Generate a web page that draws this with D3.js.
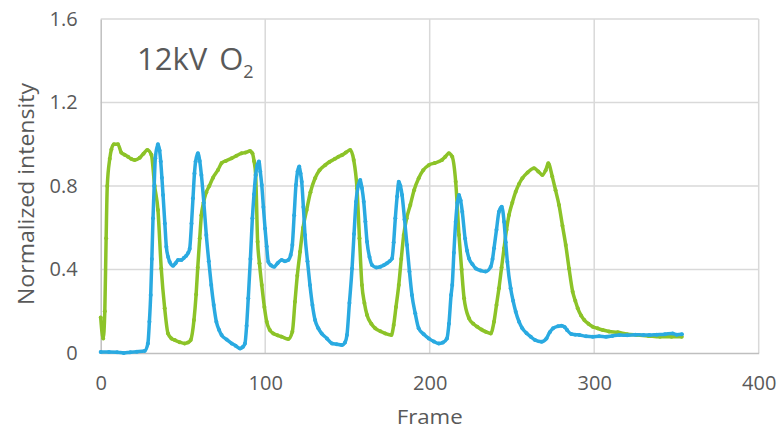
<!DOCTYPE html>
<html>
<head>
<meta charset="utf-8">
<script src="https://cdn.jsdelivr.net/npm/d3@7"></script>
<style>
  html, body { margin: 0; padding: 0; background: #ffffff; }
  svg { display: block; }
  text { font-family: "Open Sans", "DejaVu Sans", sans-serif; fill: #595959; }
</style>
</head>
<body>
<svg id="chart" width="782" height="435"></svg>
<script>
// Axis ticks
const xTicks = [0, 100, 200, 300, 400];
const yTicks = [0, 0.4, 0.8, 1.2, 1.6];
const yTickLabels = ["0", "0.4", "0.8", "1.2", "1.6"];

// Normalized intensity per frame, [frame, value]
const greenSeries = [
  [0,0.17],[1.5,0.07],[2.5,0.2],[3.3,0.55],[4,0.8],[5.5,0.93],[6.5,0.975],[8,1.0],[10.5,1.0],
  [12.5,0.96],[14.5,0.95],[16.6,0.94],[18.5,0.93],[20.7,0.925],[23.7,0.935],[26,0.955],[28.3,0.972],
  [30.8,0.95],[32.8,0.80],[34.8,0.685],[36.8,0.405],[38.9,0.214],[40.9,0.094],[43,0.07],[45,0.062],
  [48,0.052],[51,0.046],[53,0.05],[54.7,0.062],[56.7,0.158],[58,0.28],[59,0.41],[60.2,0.55],
  [61.2,0.66],[62.5,0.72],[64.2,0.77],[66,0.8],[68.3,0.84],[71.3,0.877],[73.5,0.91],[76,0.92],
  [79.6,0.933],[82.5,0.945],[85.7,0.957],[88,0.96],[90.8,0.968],[92.2,0.957],[93.2,0.92],[94.2,0.853],
  [95.4,0.533],[96.5,0.43],[97.9,0.326],[99.5,0.22],[100.9,0.15],[102.8,0.11],[104.9,0.094],
  [107.5,0.085],[110,0.078],[114,0.067],[116.5,0.102],[118.1,0.246],[119.5,0.37],[121.2,0.485],
  [123,0.6],[125.2,0.685],[127.5,0.77],[130.3,0.837],[133,0.875],[136.4,0.90],[139,0.915],
  [142.4,0.93],[144.5,0.94],[146.7,0.948],[149,0.96],[151.7,0.972],[153.8,0.925],[155.8,0.789],
  [157.3,0.55],[158.8,0.326],[160.3,0.24],[161.9,0.182],[164.5,0.14],[166.9,0.118],[170,0.104],
  [173,0.094],[176.7,0.086],[178.1,0.134],[179.5,0.22],[181.2,0.326],[182.7,0.45],[184.2,0.565],
  [186,0.645],[188.2,0.709],[190.5,0.78],[193.3,0.837],[196,0.875],[199.4,0.90],[203,0.91],
  [207.5,0.925],[209.5,0.94],[211.6,0.957],[213.7,0.94],[215.8,0.82],[217.8,0.565],[219.4,0.40],
  [220.9,0.262],[223.9,0.166],[226.5,0.14],[228.9,0.126],[231.5,0.112],[234,0.102],[237.1,0.094],
  [239.1,0.15],[240.6,0.23],[242.1,0.31],[243.7,0.41],[245.2,0.502],[246.7,0.59],[248.2,0.661],
  [250.2,0.72],[252.3,0.773],[254.3,0.81],[256.3,0.837],[259.5,0.865],[263.4,0.885],[266,0.87],
  [268.5,0.853],[270.5,0.875],[272.1,0.909],[274.5,0.845],[276.5,0.78],[278.6,0.709],[280.7,0.61],
  [282.7,0.517],[284.7,0.405],[286.9,0.294],[288.5,0.25],[290,0.214],[292,0.18],[294,0.158],
  [296.5,0.14],[299.1,0.126],[302,0.118],[305.2,0.11],[309,0.103],[314.3,0.099],[320,0.09],
  [326,0.086],[333,0.082],[340,0.078],[347,0.078],[353.2,0.078]
];

const blueSeries = [
  [0,0.005],[5,0.005],[10,0.004],[14,0.0],[18,0.004],[22,0.006],[26.7,0.01],[28.7,0.046],
  [29.6,0.15],[30.4,0.278],[31.1,0.45],[31.8,0.645],[32.5,0.8],[33.2,0.933],[34.8,1.0],[35.8,0.97],
  [36.5,0.917],[37.2,0.84],[37.9,0.757],[39,0.62],[39.9,0.509],[41,0.46],[41.9,0.437],[44,0.418],
  [45.5,0.43],[47,0.445],[49,0.445],[50.5,0.455],[52,0.466],[53.2,0.48],[54.1,0.50],[55.2,0.62],
  [56.1,0.741],[57,0.86],[57.7,0.917],[59.1,0.957],[60.2,0.92],[61.2,0.853],[62.7,0.72],[64.2,0.565],
  [65.7,0.44],[67.2,0.326],[68.7,0.23],[70.3,0.15],[72,0.11],[73.5,0.086],[76.5,0.065],[79.6,0.046],
  [82,0.035],[84.7,0.022],[86.5,0.03],[87.7,0.046],[88.7,0.13],[89.7,0.262],[91,0.45],[92.2,0.645],
  [93.2,0.76],[94.2,0.853],[95.2,0.9],[96.2,0.917],[97,0.87],[97.9,0.805],[98.9,0.7],[99.9,0.597],
  [100.9,0.51],[101.9,0.437],[103.5,0.42],[105.5,0.413],[107.5,0.43],[110,0.445],[112,0.44],
  [114,0.445],[115.5,0.47],[116.5,0.517],[117.6,0.66],[118.7,0.805],[119.7,0.87],[120.7,0.893],
  [121.5,0.86],[122.2,0.82],[123.2,0.7],[124.2,0.565],[125.7,0.44],[127.2,0.326],[128.7,0.23],
  [130.3,0.158],[132.3,0.118],[134.3,0.094],[137.5,0.07],[140.6,0.046],[143.5,0.042],[146.7,0.038],
  [148.5,0.05],[149.7,0.086],[151.2,0.24],[152.8,0.405],[154,0.57],[155.2,0.725],[156.5,0.8],
  [157.8,0.829],[158.8,0.79],[159.9,0.725],[160.9,0.63],[161.9,0.533],[163.4,0.46],[164.9,0.422],
  [167.5,0.41],[170,0.413],[172,0.42],[174,0.43],[175.6,0.44],[177.1,0.453],[178.1,0.53],
  [179.1,0.645],[180.2,0.75],[181.2,0.82],[182.2,0.8],[183.2,0.757],[184.7,0.64],[186.2,0.517],
  [187.7,0.39],[189.2,0.278],[191.2,0.19],[193.3,0.118],[196.4,0.09],[199.4,0.07],[202.5,0.055],
  [205.5,0.046],[208,0.05],[210.5,0.07],[211.7,0.14],[213,0.278],[213.7,0.326],[214.7,0.48],
  [215.8,0.629],[216.8,0.72],[217.8,0.757],[218.8,0.73],[219.8,0.677],[221.5,0.549],[222.7,0.49],
  [223.9,0.453],[226,0.425],[228,0.405],[231,0.395],[234,0.39],[237.1,0.413],[238.2,0.45],
  [239.1,0.502],[240.6,0.59],[242.1,0.677],[243.8,0.701],[245.2,0.629],[246.2,0.53],[247.2,0.437],
  [249.2,0.31],[250.7,0.25],[252.3,0.198],[254.3,0.15],[256.3,0.118],[258.9,0.095],[261.4,0.078],
  [264,0.062],[268,0.054],[271,0.07],[273,0.1],[275,0.118],[278,0.128],[280,0.13],[282,0.125],
  [283.5,0.11],[286,0.091],[288.5,0.088],[291,0.086],[295,0.08],[299.1,0.078],[303,0.08],
  [307.2,0.078],[311,0.082],[315.3,0.086],[320,0.085],[325,0.088],[330,0.086],[333.5,0.086],
  [338,0.088],[343,0.09],[347.7,0.094],[350,0.088],[353.3,0.09]
];

const seriesList = [
  { name: "green", color: "#8cc328", data: greenSeries },
  { name: "blue", color: "#2aaae1", data: blueSeries }
];

const svg = d3.select("#chart");
const plot = { left: 100.7, right: 758.7, top: 19, bottom: 353 };

const x = d3.scaleLinear().domain([0, 400]).range([plot.left, plot.right]);
const y = d3.scaleLinear().domain([0, 1.6]).range([plot.bottom, plot.top]);

// Gridlines
const grid = svg.append("g");
grid.selectAll("line.v").data(xTicks.filter(d => d > 0)).join("line")
  .attr("x1", d => x(d)).attr("x2", d => x(d))
  .attr("y1", plot.top).attr("y2", plot.bottom)
  .attr("stroke", "#d9d9d9").attr("stroke-width", 1.5);
grid.selectAll("line.h").data(yTicks.filter(d => d > 0)).join("line")
  .attr("x1", plot.left).attr("x2", plot.right)
  .attr("y1", d => y(d)).attr("y2", d => y(d))
  .attr("stroke", "#d9d9d9").attr("stroke-width", 1.5);

// Axes
const xAxis = d3.axisBottom(x).tickValues(xTicks).tickSize(0).tickPadding(23);
const yAxis = d3.axisLeft(y).tickValues(yTicks).tickSize(0).tickPadding(23)
  .tickFormat((d, i) => yTickLabels[i]);

const gx = svg.append("g").attr("transform", `translate(0,${plot.bottom})`).call(xAxis);
const gy = svg.append("g").attr("transform", `translate(${plot.left},0)`).call(yAxis);
[gx, gy].forEach(g => {
  g.select(".domain").attr("stroke", "#bfbfbf").attr("stroke-width", 1.5);
  g.selectAll("text").attr("font-size", 20).attr("fill", "#595959")
    .style("font-family", '"Open Sans", sans-serif');
});
gx.selectAll("text").attr("dy", "0.71em");

// Series lines (smoothed) with small markers
const line = d3.line().x(d => x(d[0])).y(d => y(d[1])).curve(d3.curveMonotoneX);
seriesList.forEach(s => {
  const g = svg.append("g");
  g.append("path").datum(s.data)
    .attr("d", line).attr("fill", "none")
    .attr("stroke", s.color).attr("stroke-width", 3.5)
    .attr("stroke-linejoin", "round").attr("stroke-linecap", "round");
  g.selectAll("circle").data(s.data).join("circle")
    .attr("cx", d => x(d[0])).attr("cy", d => y(d[1])).attr("r", 2)
    .attr("fill", s.color);
});

// Axis titles
svg.append("text")
  .attr("x", (plot.left + plot.right) / 2).attr("y", 424)
  .attr("text-anchor", "middle").attr("font-size", 20)
  .attr("textLength", 66).attr("lengthAdjust", "spacingAndGlyphs")
  .text("Frame");

svg.append("text")
  .attr("transform", "translate(33.5,194) rotate(-90)")
  .attr("text-anchor", "middle").attr("font-size", 21)
  .attr("textLength", 222).attr("lengthAdjust", "spacingAndGlyphs")
  .text("Normalized intensity");

// Chart label
const title = svg.append("text").attr("x", 137).attr("y", 70).attr("font-size", 31);
title.append("tspan").text("12kV");
title.append("tspan").attr("dx", 12).text("O");
title.append("tspan").attr("font-size", 18).attr("dy", 8).text("2");
</script>
</body>
</html>
